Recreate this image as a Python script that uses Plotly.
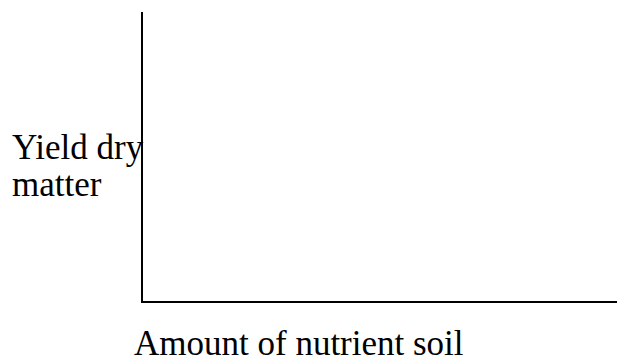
import plotly.graph_objects as go

# Axis titles (the sketch has no plotted series, only labelled axes)
y_label_lines = ["Yield dry", "matter"]
x_label = "Amount of nutrient soil"

W, H = 617, 360
FONT = dict(family="Liberation Serif, Times New Roman, serif", size=35, color="black")


def px_x(p):
    return p / W


def px_y(p):
    return 1 - p / H


fig = go.Figure()

fig.update_layout(
    width=W,
    height=H,
    margin=dict(l=0, r=0, t=0, b=0),
    paper_bgcolor="white",
    plot_bgcolor="white",
    showlegend=False,
    xaxis=dict(
        domain=[px_x(143), 1],
        range=[0, 1],
        showline=True,
        linecolor="black",
        linewidth=1.5,
        showgrid=False,
        zeroline=False,
        showticklabels=False,
        ticks="",
        fixedrange=True,
    ),
    yaxis=dict(
        domain=[px_y(301), px_y(12)],
        range=[0, 1],
        showline=True,
        linecolor="black",
        linewidth=1.5,
        showgrid=False,
        zeroline=False,
        showticklabels=False,
        ticks="",
        fixedrange=True,
    ),
)

annotations = []
for i, line in enumerate(y_label_lines):
    annotations.append(dict(
        text=line, xref="paper", yref="paper",
        x=px_x(10), y=px_y(147 + 37 * i),
        xanchor="left", yanchor="middle",
        showarrow=False, font=FONT,
    ))
annotations.append(dict(
    text=x_label, xref="paper", yref="paper",
    x=px_x(132), y=px_y(343),
    xanchor="left", yanchor="middle",
    showarrow=False, font=FONT,
))
fig.update_layout(annotations=annotations)

fig.write_html("out.html", config={"displayModeBar": False})
